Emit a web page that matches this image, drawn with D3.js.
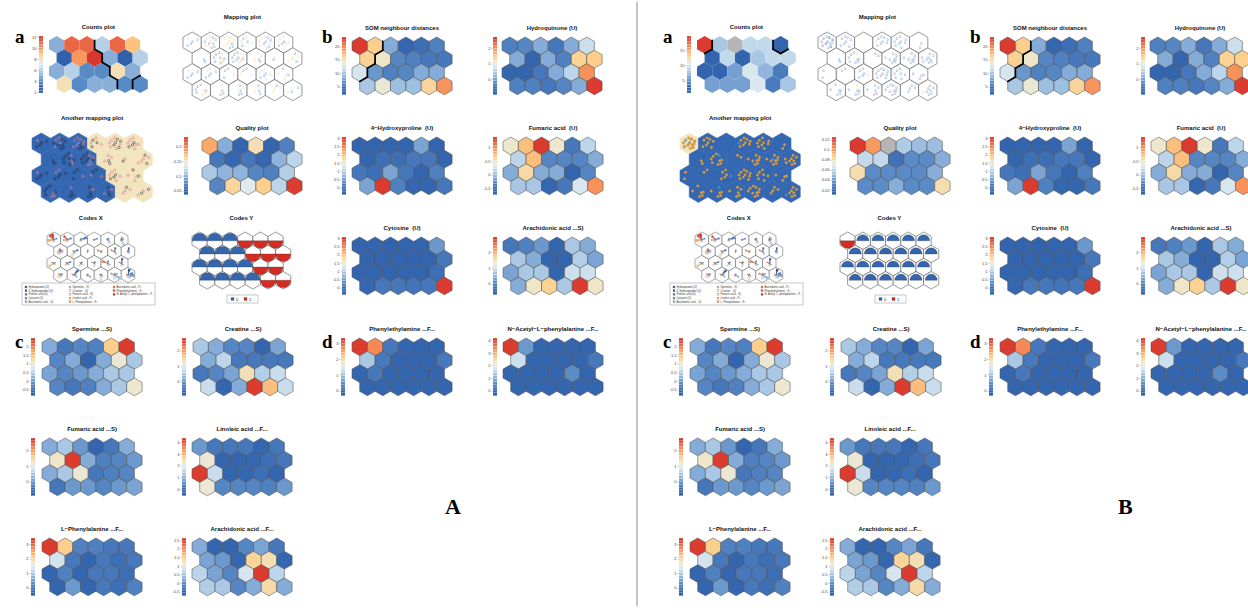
<!doctype html>
<html>
<head>
<meta charset="utf-8">
<script src="https://cdn.jsdelivr.net/npm/d3@7/dist/d3.min.js"></script>
<style>
body { margin:0; background:#fff; }
text { font-family:"Liberation Sans", Arial, sans-serif; }
.ttl { font-weight:bold; font-size:6px; white-space:pre; fill:#111; }
.lab { font-family:"Liberation Serif","Times New Roman",serif; font-weight:bold; fill:#000; }
</style>
</head>
<body>
<svg id="fig" width="1248" height="608"></svg>
<script>
// ---- SOM property maps: 24 units, 6 columns x 4 rows, top row first ----
var hydroquinone = [-0.33,-0.26,0.11,-0.45,0.11,0.67, 0.11,-0.78,0.11,-0.33,1.41,1.44, -0.78,-0.78,-0.45,0.11,0.55,1.96, -0.33,-0.33,-0.45,-0.26,0.11,2.59];
var hydroxyproline = [-0.26,-0.26,-0.26,-0.22,0.55,-0.26, -0.22,-0.01,-0.01,0.09,0.09,-0.22, 0.09,-0.01,0.55,0.09,-0.22,0.20, 0.55,2.96,0.20,-0.15,-0.22,0.09];
var fumaricU = [0.44,0.74,1.32,0.44,-0.44,0.14, 0.14,0.74,-0.33,-0.33,-0.33,-0.12, -0.12,0.57,-0.12,-0.12,-0.63,-0.33, 0.05,0.05,-0.59,-0.44,0.27,0.95];
var cytosine = [-0.27,-0.26,-0.28,-0.26,-0.25,0.44, -0.26,-0.27,-0.26,-0.28,-0.26,0.09, -0.27,-0.26,-0.27,-0.26,-0.25,-0.01, -0.15,0.09,0.09,0.05,0.09,2.96];
var arachidonicS = [-0.16,-0.05,0.21,-0.49,0.69,0.39, 0.69,0.39,-0.49,-0.49,0.76,0.32, 0.32,0.69,0.69,-0.49,0.98,0.98, 0.39,1.39,1.68,0.69,2.86,1.39];
var spermine = [0.14,-0.37,-0.20,-0.27,1.35,2.39, -0.20,0.14,-0.67,0.14,0.98,0.41, 0.07,-0.20,-0.03,0.14,0.41,0.41, -0.20,-0.37,-0.27,0.14,0.41,1.01];
var creatine = [0.47,0.17,-0.21,-0.21,-0.74,0.09, 0.17,0.63,-0.40,-0.40,-0.40,-0.40, -0.40,-0.21,0.09,1.31,0.55,0.74, 0.74,-0.74,0.17,2.72,1.69,0.74];
var fumaricS = [0.19,0.49,0.01,-0.70,-0.37,0.19, 1.19,2.67,0.19,-0.25,-0.18,0.01, 0.19,0.49,1.12,-0.37,-0.25,-0.18, -0.37,0.01,0.01,-0.18,0.01,0.12];
var linoleic = [0.64,0.14,0.14,0.14,-0.20,0.14, 2.12,-0.30,-0.30,-0.20,-0.01,0.14, 4.20,1.63,-0.30,-0.20,-0.01,-0.30, 2.12,0.39,0.39,0.39,0.29,0.64];
var phenylalanine = [3.30,2.07,0.16,0.16,0.04,0.04, 1.31,0.04,-0.32,0.04,-0.08,0.04, -0.32,0.16,-0.24,0.04,0.04,-0.08, -0.32,0.44,-0.32,0.04,-0.08,0.16];
var arachidonicF = [0.27,-0.54,-0.54,-0.07,0.20,-0.24, 0.20,0.10,-0.47,1.41,1.28,-0.47, 0.67,0.20,-0.07,0.87,2.52,0.67, 0.60,0.54,-0.07,0.27,1.34,0.27];
var phenylethylamine = [3.22,2.67,0.22,-0.11,-0.11,-0.11, 1.06,0.22,-0.11,-0.11,-0.11,0.22, -0.11,0.22,-0.11,-0.11,-0.11,-0.11, -0.11,-0.11,-0.11,-0.11,-0.11,-0.11];
var acetylPhe = [4.03,0.73,-0.14,-0.14,-0.14,-0.14, 1.65,-0.14,-0.14,-0.14,-0.14,0.27, -0.14,-0.14,-0.14,-0.14,0.59,-0.14, -0.14,-0.14,-0.14,-0.14,-0.14,-0.14];
var somDist = [22.7,16.1,8.4,3.7,4.6,5.8, 15.8,14.1,6.3,5.8,5.2,5.2, 12.2,7.3,5.8,6.3,8.4,8.4, 10.1,13.7,9.5,9.5,15.6,19.0];
var somCluster = [1,1,0,0,0,0, 1,0,0,0,0,0, 1,0,0,0,0,0, 0,0,0,0,0,0];

var varNames = ["Hydroquinone (U)","4\u2212Hydroxyproline (U)","Fumaric acid (U)","Cytosine (U)","Arachidonic acid ...S)",
  "Spermine ...S)","Creatine ...S)","Fumaric acid ...S)","Linoleic acid ...F...","L\u2212Phenylalanine ...F...",
  "Arachidonic acid ...F...","Phenylethylamine ...F...","N\u2212Acetyl\u2212L\u2212phenylalanine ...F..."];

// ---- panel A ----
var countsA = [5,11,11,6,11,9, 2,10,12,5,2,6, 5,6,4,4,8,5, 8,4,5,5,4,4];
var countsClusterA = [0,0,0,1,1,1, 0,0,0,1,1,1, 0,0,0,0,1,1, 0,0,0,0,1,2];
var qualityA = [0.182,0.095,0.048,0.153,0.048,0.071, 0.065,0.052,0.065,0.052,0.098,0.118, 0.110,0.098,0.098,0.075,0.071,0.114, 0.075,0.161,0.134,0.165,0.118,0.225];
var classA = [0,0,0,1,1,1, 0,0,0,1,1,1, 0,0,0,0,1,1, 0,0,0,0,1,1];
var onesA = [1,4,8,3,6,6, 0,3,5,3,1,4, 1,2,1,2,5,3, 3,1,1,2,3,2];

// ---- panel B ----
var countsB = [19,8,null,9,9,2, 2,9,2,8,9,9, 2,2,6,10,7,4, 6,6,6,10,4,8];
var countsClusterB = [1,0,0,0,0,2, 0,0,0,0,0,0, 0,0,0,0,0,0, 0,0,0,0,0,0];
var qualityB = [0.122,0.100,null,0.055,0.050,0.050, 0.060,0.060,0.025,0.035,0.035,0.045, 0.080,0.035,0.035,0.035,0.035,0.045, 0.035,0.035,0.045,0.035,0.035,0.080];
var classB = [1,0,0,0,0,0, 0,0,0,0,0,0, 0,0,0,0,0,0, 0,0,0,0,0,0];
var onesB = [3,0,0,1,0,0, 0,1,0,0,1,0, 0,0,1,0,0,0, 0,1,0,0,0,1];

var SQ3 = Math.sqrt(3);
var pal = d3.scaleLinear()
  .domain([0, .1, .22, .32, .42, .5, .57, .66, .8, 1])
  .range(["#2f5fa9","#3769b3","#5b8cc6","#8fb4dc","#bcd5ea","#e0ebf0","#efe6c9","#fcd08c","#f8925a","#d62d28"])
  .clamp(true);
var svg = d3.select("#fig");

// unit centres of a 6x4 hex grid, odd rows shifted right
function layout(x0, y0, w) {
  var sx = d3.scaleLinear().domain([0, 1]).range([x0, x0 + w]);
  var sy = d3.scaleLinear().domain([0, 1]).range([y0, y0 + w]);
  return d3.range(24).map(function (k) {
    var r = Math.floor(k / 6), c = k % 6;
    return {k: k, r: r, c: c, cx: sx(c + 0.5 + (r % 2) * 0.5), cy: sy(1 / SQ3 + r * SQ3 / 2), R: w / SQ3};
  });
}
function vert(u, i) { var a = (-90 + 60 * i) * Math.PI / 180; return [u.cx + u.R * Math.cos(a), u.cy + u.R * Math.sin(a)]; }
function hexPath(u) { return "M" + d3.range(6).map(function (i) { return vert(u, i); }).join("L") + "Z"; }
function neighbour(r, c, i) {
  var o = r % 2;
  var d = [[-1, o ? 1 : 0], [0, 1], [1, o ? 1 : 0], [1, o ? 0 : -1], [0, -1], [-1, o ? 0 : -1]][i];
  var rr = r + d[0], cc = c + d[1];
  return (rr < 0 || rr > 3 || cc < 0 || cc > 5) ? -1 : rr * 6 + cc;
}
function bounds(g, us, cl) {
  var segs = [];
  us.forEach(function (u) {
    for (var i = 0; i < 6; i++) {
      var n = neighbour(u.r, u.c, i);
      if (n > u.k && cl[n] !== cl[u.k]) segs.push([vert(u, i), vert(u, (i + 1) % 6)]);
    }
  });
  g.append("g").selectAll("line").data(segs).join("line")
    .attr("x1", function (s) { return s[0][0]; }).attr("y1", function (s) { return s[0][1]; })
    .attr("x2", function (s) { return s[1][0]; }).attr("y2", function (s) { return s[1][1]; })
    .attr("stroke", "#000").attr("stroke-width", 1.7).attr("stroke-linecap", "round");
}
function title(g, x, y, t) {
  g.append("text").attr("class", "ttl").attr("x", x).attr("y", y).attr("text-anchor", "middle").text(t);
}

function propPlot(root, o) {
  var g = root.append("g");
  var us = layout(o.x, o.y, o.w);
  var t = d3.scaleLinear().domain(o.dom).range([0, 1]);
  g.append("g").selectAll("path").data(us).join("path")
    .attr("d", hexPath)
    .attr("fill", function (u) { var v = o.vals[u.k]; return v == null ? "#b5b5b5" : pal(t(v)); })
    .attr("stroke", o.noEdge ? "none" : "#505050").attr("stroke-width", 0.55);
  if (o.cl) bounds(g, us, o.cl);
  title(g, o.x + o.w * 3.25, o.y - 7, o.title);
  var h = o.w * (1.5 * SQ3 + 2 / SQ3);
  var ky = d3.scaleLinear().domain(o.dom).range([o.y + h, o.y]);
  var n = 20, step = (o.dom[1] - o.dom[0]) / n;
  g.append("g").selectAll("rect").data(d3.range(n)).join("rect")
    .attr("x", o.cbx).attr("width", 4)
    .attr("y", function (i) { return ky(o.dom[0] + (i + 1) * step) + 0.15; })
    .attr("height", function (i) { return ky(o.dom[0] + i * step) - ky(o.dom[0] + (i + 1) * step) - 0.3; })
    .attr("fill", function (i) { return pal((i + 0.5) / n); });
  var ax = g.append("g").attr("transform", "translate(" + o.cbx + ",0)")
    .call(d3.axisLeft(ky).tickValues(o.ticks).tickSize(1.5).tickPadding(1).tickFormat(function (d) { return String(d); }));
  ax.select(".domain").remove();
  ax.attr("font-size", 4).attr("font-family", "Liberation Sans, Arial, sans-serif");
  ax.selectAll("text").attr("fill", "#444");
  ax.selectAll("line").attr("stroke", "#777").attr("stroke-width", 0.4);
}

var jit = [[-.22,-.2],[.12,-.26],[.28,.02],[-.08,.08],[.06,.28],[-.28,.18],[.22,.22],[-.04,-.34],[.32,-.14],[-.34,-.04],[.02,-.06],[.16,.06]];
function samples(counts, ones, us) {
  var pts = [];
  us.forEach(function (u) {
    var n = counts[u.k] || 0;
    for (var j = 0; j < n; j++) {
      var q = jit[(j * 5 + u.k * 7) % 12];
      pts.push({x: u.cx + q[0] * u.R * 1.6, y: u.cy + q[1] * u.R * 1.6, cls: j < ones[u.k] ? 1 : 0});
    }
  });
  return pts;
}

function mapPlot(root, o) {
  var g = root.append("g");
  var us = layout(o.x, o.y, o.w);
  g.append("g").selectAll("path").data(us).join("path").attr("d", hexPath)
    .attr("fill", "#fff").attr("stroke", "#555").attr("stroke-width", 0.6);
  g.append("g").selectAll("text").data(samples(o.counts, o.ones, us)).join("text")
    .attr("x", function (p) { return p.x; }).attr("y", function (p) { return p.y + 1.3; })
    .attr("font-size", 3.6).attr("text-anchor", "middle")
    .attr("fill", function (p) { return p.cls ? "#efc27c" : "#5a86c2"; })
    .text(function (p) { return p.cls ? "1" : "0"; });
  title(g, o.x + o.w * 3.25, o.y - 13, "Mapping plot");
}

function clusterMap(root, o) {
  var g = root.append("g");
  var us = layout(o.x, o.y, o.w);
  var fills = ["#3467b2", "#f3e4c0"];
  g.append("g").selectAll("path").data(us).join("path").attr("d", hexPath)
    .attr("fill", function (u) { return fills[o.cl[u.k]]; })
    .attr("stroke", function (u) { return fills[o.cl[u.k]]; }).attr("stroke-width", 0.6);
  var pts = samples(o.counts, o.ones, us);
  g.append("g").selectAll("circle").data(pts.filter(function (p) { return !p.cls; })).join("circle")
    .attr("cx", function (p) { return p.x; }).attr("cy", function (p) { return p.y; }).attr("r", 1.2)
    .attr("fill", o.dotFill).attr("stroke", o.dotStroke).attr("stroke-width", 0.5);
  g.append("g").selectAll("path.tri").data(pts.filter(function (p) { return p.cls; })).join("path")
    .attr("d", function (p) { return "M" + p.x + "," + (p.y - 1.5) + "L" + (p.x + 1.4) + "," + (p.y + 1) + "L" + (p.x - 1.4) + "," + (p.y + 1) + "Z"; })
    .attr("fill", "none").attr("stroke", o.triStroke).attr("stroke-width", 0.55);
  title(g, o.x + o.w * 3.25, o.y - 13, "Another mapping plot");
}

function codesX(root, o) {
  var g = root.append("g");
  var us = layout(o.x, o.y, o.w);
  var vars = [hydroquinone, hydroxyproline, fumaricU, cytosine, arachidonicS, spermine, creatine,
    fumaricS, linoleic, phenylalanine, arachidonicF, phenylethylamine, acetylPhe];
  var norm = vars.map(function (v) { return d3.scaleLinear().domain(d3.extent(v)).range([0.08, 1]); });
  var vc = d3.range(13).map(function (i) { return pal(i / 12); });
  g.append("g").selectAll("path").data(us).join("path").attr("d", hexPath)
    .attr("fill", "#fff").attr("stroke", "#555").attr("stroke-width", 0.5);
  var arc = d3.arc().innerRadius(0);
  var wedges = [];
  us.forEach(function (u) {
    vars.forEach(function (v, i) {
      wedges.push({u: u, i: i, r: norm[i](v[u.k]) * u.R * 0.8});
    });
  });
  g.append("g").selectAll("path").data(wedges).join("path")
    .attr("transform", function (d) { return "translate(" + d.u.cx + "," + d.u.cy + ")"; })
    .attr("d", function (d) { return arc({outerRadius: d.r, startAngle: d.i * 2 * Math.PI / 13, endAngle: (d.i + 1) * 2 * Math.PI / 13}); })
    .attr("fill", function (d) { return vc[d.i]; }).attr("stroke", "#666").attr("stroke-width", 0.15);
  title(g, o.x + o.w * 3.25, o.y - 12, "Codes X");
  var lg = g.append("g").attr("transform", "translate(" + o.lx + "," + o.ly + ")");
  lg.append("rect").attr("width", 133).attr("height", 22).attr("fill", "#fff").attr("stroke", "#777").attr("stroke-width", 0.4);
  var it = lg.selectAll("g").data(varNames).join("g")
    .attr("transform", function (d, i) { return "translate(" + (3 + Math.floor(i / 5) * 44) + "," + (3 + (i % 5) * 3.7) + ")"; });
  it.append("rect").attr("width", 2).attr("height", 2).attr("fill", function (d, i) { return vc[i]; }).attr("stroke", "#555").attr("stroke-width", 0.2);
  it.append("text").attr("x", 3.5).attr("y", 1.9).attr("font-size", 2.6).attr("fill", "#333").text(function (d) { return d; });
}

function codesY(root, o) {
  var g = root.append("g");
  var us = layout(o.x, o.y, o.w);
  g.append("g").selectAll("path").data(us).join("path").attr("d", hexPath)
    .attr("fill", "#fff").attr("stroke", "#555").attr("stroke-width", 0.6);
  var arc = d3.arc().innerRadius(0);
  var halves = [];
  us.forEach(function (u) {
    var p = o.cls[u.k];
    if (p < 1) halves.push({u: u, r: (1 - p) * u.R * o.rs, s: -Math.PI / 2, e: Math.PI / 2, c: "#3466b0"});
    if (p > 0) halves.push({u: u, r: p * u.R * 0.86, s: Math.PI / 2, e: 1.5 * Math.PI, c: "#d42b22"});
  });
  g.append("g").selectAll("path").data(halves).join("path")
    .attr("transform", function (d) { return "translate(" + d.u.cx + "," + d.u.cy + ")"; })
    .attr("d", function (d) { return arc({outerRadius: d.r, startAngle: d.s, endAngle: d.e}); })
    .attr("fill", function (d) { return d.c; }).attr("stroke", "#333").attr("stroke-width", 0.3);
  title(g, o.x + o.w * 3.25, o.y - 12, "Codes Y");
  var lg = g.append("g").attr("transform", "translate(" + o.lx + "," + o.ly + ")");
  lg.append("rect").attr("width", 31).attr("height", 8).attr("fill", "#fff").attr("stroke", "#777").attr("stroke-width", 0.4);
  [["0", "#3466b0"], ["1", "#d42b22"]].forEach(function (d, i) {
    lg.append("rect").attr("x", 4 + i * 13).attr("y", 2.5).attr("width", 3).attr("height", 3).attr("fill", d[1]).attr("stroke", "#333").attr("stroke-width", 0.2);
    lg.append("text").attr("x", 9 + i * 13).attr("y", 5.6).attr("font-size", 4).attr("fill", "#222").text(d[0]);
  });
}

function panel(dx, P) {
  var root = svg.append("g").attr("transform", "translate(" + dx + ",0)");
  var W = 15.4;
  propPlot(root, {title: "Counts plot", vals: P.counts, dom: P.countDom, ticks: P.countTicks, x: 49, y: 36, w: 15.2, cbx: 39, noEdge: true, cl: P.countCl});
  mapPlot(root, {x: P.mapX, y: 32, w: 18.3, counts: P.counts, ones: P.ones});
  propPlot(root, {title: "SOM neighbour distances", vals: somDist, dom: [2, 23.3], ticks: [20, 15, 10, 5], x: 352, y: 37, w: W, cbx: 342, cl: somCluster});
  propPlot(root, {title: "Hydroquinone (U)", vals: hydroquinone, dom: [-1, 2.7], ticks: [2, 1, 0], x: 502, y: 37, w: W, cbx: 493});
  clusterMap(root, {x: 32, y: 133, w: 18.5, cl: P.cls, counts: P.counts, ones: P.ones, dotFill: P.dotFill, dotStroke: P.dotStroke, triStroke: P.triStroke});
  propPlot(root, {title: "Quality plot", vals: P.quality, dom: P.qualDom, ticks: P.qualTicks, x: 202, y: 137, w: W, cbx: 184});
  propPlot(root, {title: "4\u2212Hydroxyproline  (U)", vals: hydroxyproline, dom: [-0.43, 3.06], ticks: [3, 2.5, 2, 1.5, 1, 0.5, 0], x: 352, y: 137, w: W, cbx: 342});
  propPlot(root, {title: "Fumaric acid  (U)", vals: fumaricU, dom: [-0.76, 1.38], ticks: [1, 0.5, 0, -0.5], x: 503, y: 137, w: W, cbx: 493});
  codesX(root, {x: 47, y: 232, w: 13.5, lx: 22, ly: 283});
  codesY(root, {x: 192, y: 232, w: 15.2, lx: 227, ly: 295, cls: P.cls, rs: P.rs});
  propPlot(root, {title: "Cytosine  (U)", vals: cytosine, dom: [-0.43, 3.06], ticks: [3, 2.5, 2, 1.5, 1, 0.5, 0], x: 352, y: 237, w: W, cbx: 342});
  propPlot(root, {title: "Arachidonic acid ...S)", vals: arachidonicS, dom: [-0.71, 2.97], ticks: [2, 1, 0], x: 503, y: 237, w: W, cbx: 493});
  propPlot(root, {title: "Spermine ...S)", vals: spermine, dom: [-0.87, 2.49], ticks: [2, 1.5, 1, 0.5, 0, -0.5], x: 42, y: 338, w: W, cbx: 31});
  propPlot(root, {title: "Creatine ...S)", vals: creatine, dom: [-0.97, 2.83], ticks: [2, 1, 0], x: 193, y: 338, w: W, cbx: 182});
  propPlot(root, {title: "Phenylethylamine ...F...", vals: phenylethylamine, dom: [-0.33, 3.33], ticks: [3, 2, 1, 0], x: 352, y: 338, w: W, cbx: 341});
  propPlot(root, {title: "N\u2212Acetyl\u2212L\u2212phenylalanine ...F...", vals: acetylPhe, dom: [-0.42, 4.17], ticks: [4, 3, 2, 1, 0], x: 503, y: 338, w: W, cbx: 493});
  propPlot(root, {title: "Fumaric acid ...S)", vals: fumaricS, dom: [-0.92, 2.78], ticks: [2, 1, 0], x: 42, y: 438, w: W, cbx: 31});
  propPlot(root, {title: "Linoleic acid ...F...", vals: linoleic, dom: [-0.6, 4.35], ticks: [4, 3, 2, 1, 0], x: 192, y: 438, w: W, cbx: 182});
  propPlot(root, {title: "L\u2212Phenylalanine ...F...", vals: phenylalanine, dom: [-0.56, 3.42], ticks: [3, 2, 1, 0], x: 42, y: 538, w: W, cbx: 31});
  propPlot(root, {title: "Arachidonic acid ...F...", vals: arachidonicF, dom: [-0.74, 2.62], ticks: [2.5, 2, 1.5, 1, 0.5, 0, -0.5], x: 192, y: 538, w: W, cbx: 182});
  [["a", 15, 43], ["b", 322, 43], ["c", 15, 348], ["d", 322, 348]].forEach(function (l) {
    root.append("text").attr("class", "lab").attr("x", l[1]).attr("y", l[2]).attr("font-size", 19).text(l[0]);
  });
}

panel(0, {counts: countsA, countDom: [1.8, 12.2], countTicks: [12, 10, 8, 6, 4, 2], countCl: countsClusterA,
  quality: qualityA, qualDom: [0.036, 0.231], qualTicks: [0.2, 0.15, 0.1, 0.05], mapX: 183,
  cls: classA, ones: onesA, rs: 0.86, dotFill: "none", dotStroke: "#222", triStroke: "#e0809a"});
panel(648, {counts: countsB, countDom: [1, 19.5], countTicks: [15, 10, 5], countCl: countsClusterB,
  quality: qualityB, qualDom: [0.01, 0.125], qualTicks: [0.12, 0.1, 0.08, 0.06, 0.04, 0.02], mapX: 170,
  cls: classB, ones: onesB, rs: 0.7, dotFill: "#dda24a", dotStroke: "#c98a2c", triStroke: "#4fa8e0"});

svg.append("text").attr("class", "lab").attr("x", 445).attr("y", 514).attr("font-size", 22).text("A");
svg.append("text").attr("class", "lab").attr("x", 1118).attr("y", 514).attr("font-size", 22).text("B");
svg.append("line").attr("x1", 637).attr("x2", 637).attr("y1", 2).attr("y2", 606).attr("stroke", "#8a8a8a").attr("stroke-width", 1);
</script>
</body>
</html>
